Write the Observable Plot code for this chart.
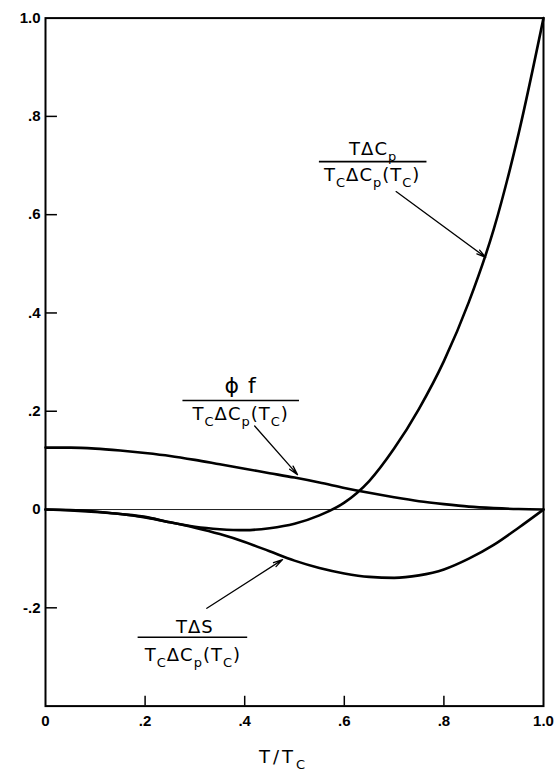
<!DOCTYPE html>
<html>
<head>
<meta charset="utf-8">
<script src="https://cdn.jsdelivr.net/npm/d3@7"></script>
<script src="https://cdn.jsdelivr.net/npm/@observablehq/plot@0.6"></script>
<style>
  html, body { margin: 0; padding: 0; background: #fff; }
  #chart { width: 554px; height: 778px; }
</style>
</head>
<body>
<div id="chart"></div>
<script>
// T/Tc sample points
const tRatio = [0, 0.05, 0.1, 0.15, 0.2, 0.25, 0.3, 0.35, 0.4, 0.45, 0.5, 0.55, 0.6, 0.65, 0.7, 0.75, 0.8, 0.85, 0.9, 0.95, 1.0];
// T ΔCp / (Tc ΔCp(Tc))
const tdCp = [0, -0.001, -0.004, -0.009, -0.015, -0.026, -0.035, -0.040, -0.042, -0.038, -0.029, -0.012, 0.014, 0.058, 0.124, 0.205, 0.302, 0.422, 0.570, 0.765, 1.0];
// T ΔS / (Tc ΔCp(Tc))
const tdS = [0, -0.002, -0.005, -0.009, -0.016, -0.026, -0.037, -0.050, -0.066, -0.085, -0.104, -0.119, -0.130, -0.137, -0.139, -0.134, -0.122, -0.100, -0.072, -0.037, 0];
// φ f / (Tc ΔCp(Tc))
const phiF = [0.126, 0.126, 0.124, 0.120, 0.115, 0.109, 0.101, 0.092, 0.083, 0.074, 0.065, 0.055, 0.044, 0.034, 0.025, 0.017, 0.011, 0.006, 0.003, 0.001, 0];

const xTicks = [0, 0.2, 0.4, 0.6, 0.8, 1.0];
const yTicks = [-0.2, 0, 0.2, 0.4, 0.6, 0.8, 1.0];
const xTickLabels = ["0", ".2", ".4", ".6", ".8", "1.0"];
const yTickLabels = ["-.2", "0", ".2", ".4", ".6", ".8", "1.0"];

// curve annotations (fraction labels)
const labelTexts = ["TΔC_{p}", "T_{C}ΔC_{p}(T_{C})", "ϕ f", "T_{C}ΔC_{p}(T_{C})", "TΔS", "T_{C}ΔC_{p}(T_{C})"];
const labelX = [0.658, 0.656, 0.392, 0.392, 0.30, 0.296];
const labelY = [0.733, 0.680, 0.252, 0.193, -0.240, -0.297];
const labelSize = [18, 18, 22, 18, 18, 18];
const barX1 = [0.55, 0.276, 0.186];
const barX2 = [0.766, 0.51, 0.406];
const barY = [0.708, 0.222, -0.26];
const arrowFrom = [[0.704, 0.647], [0.42, 0.17], [0.324, -0.201]];
const arrowTo = [[0.884, 0.513], [0.506, 0.071], [0.476, -0.102]];
const xTitle = "T/T_{C}";

const curves = [];
tRatio.forEach((t, i) => {
  curves.push({t, v: tdCp[i], s: "cp"});
  curves.push({t, v: tdS[i], s: "ds"});
  curves.push({t, v: phiF[i], s: "phi"});
});
const labels = labelTexts.map((text, i) => ({text, x: labelX[i], y: labelY[i], size: labelSize[i]}));
const bars = barY.map((y, i) => ({x1: barX1[i], x2: barX2[i], y}));
const arrows = arrowFrom.map((f, i) => ({x1: f[0], y1: f[1], x2: arrowTo[i][0], y2: arrowTo[i][1]}));

const fmtX = d => xTickLabels[xTicks.indexOf(d)];
const fmtY = d => yTickLabels[yTicks.findIndex(v => Math.abs(v - d) < 1e-9)];

const plot = Plot.plot({
  width: 554,
  height: 778,
  marginLeft: 45,
  marginRight: 11,
  marginTop: 17.6,
  marginBottom: 72.4,
  x: {domain: [0, 1]},
  y: {domain: [-0.4, 1]},
  style: {fontFamily: "'DejaVu Sans', sans-serif", background: "#fff", color: "#000"},
  marks: [
    Plot.ruleY([0], {stroke: "#222", strokeWidth: 1}),
    Plot.ruleY(yTicks.filter(v => v !== 0 && v !== 1), {x1: 0, x2: 0.024, stroke: "#000", strokeWidth: 1.5}),
    Plot.ruleX(xTicks.filter(v => v !== 0 && v !== 1), {y1: -0.4, y2: -0.38, stroke: "#000", strokeWidth: 1.5}),
    Plot.axisX({ticks: xTicks, tickFormat: fmtX, tickSize: 0, tickPadding: 9, fontSize: 15, fontWeight: "bold", fontFamily: "'Liberation Sans', sans-serif", label: null}),
    Plot.axisY({ticks: yTicks, tickFormat: fmtY, tickSize: 0, tickPadding: 5, fontSize: 15, fontWeight: "bold", fontFamily: "'Liberation Sans', sans-serif", label: null}),
    Plot.frame({stroke: "#000", strokeWidth: 2}),
    Plot.line(curves, {x: "t", y: "v", z: "s", curve: "monotone-x", stroke: "#000", strokeWidth: 2.6}),
    Plot.ruleY(bars, {x1: "x1", x2: "x2", y: "y", stroke: "#000", strokeWidth: 1.6}),
    Plot.arrow(arrows, {x1: "x1", y1: "y1", x2: "x2", y2: "y2", stroke: "#000", strokeWidth: 1.3, headLength: 11, headAngle: 28}),
    Plot.text(labels, {x: "x", y: "y", text: "text", fontSize: "size", fill: "#000", textAnchor: "middle", className: "frac-label"}),
    Plot.text([xTitle], {x: [0.478], y: [-0.505], text: d => d, fontSize: 18, fill: "#000", className: "x-title"})
  ]
});

document.getElementById("chart").appendChild(plot);

// spread the lettering of the labels a little
plot.querySelectorAll(".frac-label text").forEach(t => { t.style.letterSpacing = "1px"; });
plot.querySelectorAll(".x-title text").forEach(t => { t.style.letterSpacing = "3px"; });

// render subscripts written as _{...} with real tspans
plot.querySelectorAll("text").forEach(t => {
  const s = t.textContent;
  if (!s.includes("_{")) return;
  const fs = parseFloat(getComputedStyle(t).fontSize) || 16;
  const shift = Math.round(fs * 0.32);
  const parts = s.split(/(_\{[^}]*\})/).filter(p => p.length);
  while (t.firstChild) t.removeChild(t.firstChild);
  let lowered = false;
  parts.forEach(p => {
    const ts = document.createElementNS("http://www.w3.org/2000/svg", "tspan");
    if (p.startsWith("_{")) {
      ts.textContent = p.slice(2, -1);
      ts.setAttribute("font-size", Math.round(fs * 0.72));
      if (!lowered) { ts.setAttribute("dy", shift); lowered = true; }
    } else {
      ts.textContent = p;
      if (lowered) { ts.setAttribute("dy", -shift); lowered = false; }
    }
    t.appendChild(ts);
  });
});
</script>
</body>
</html>
